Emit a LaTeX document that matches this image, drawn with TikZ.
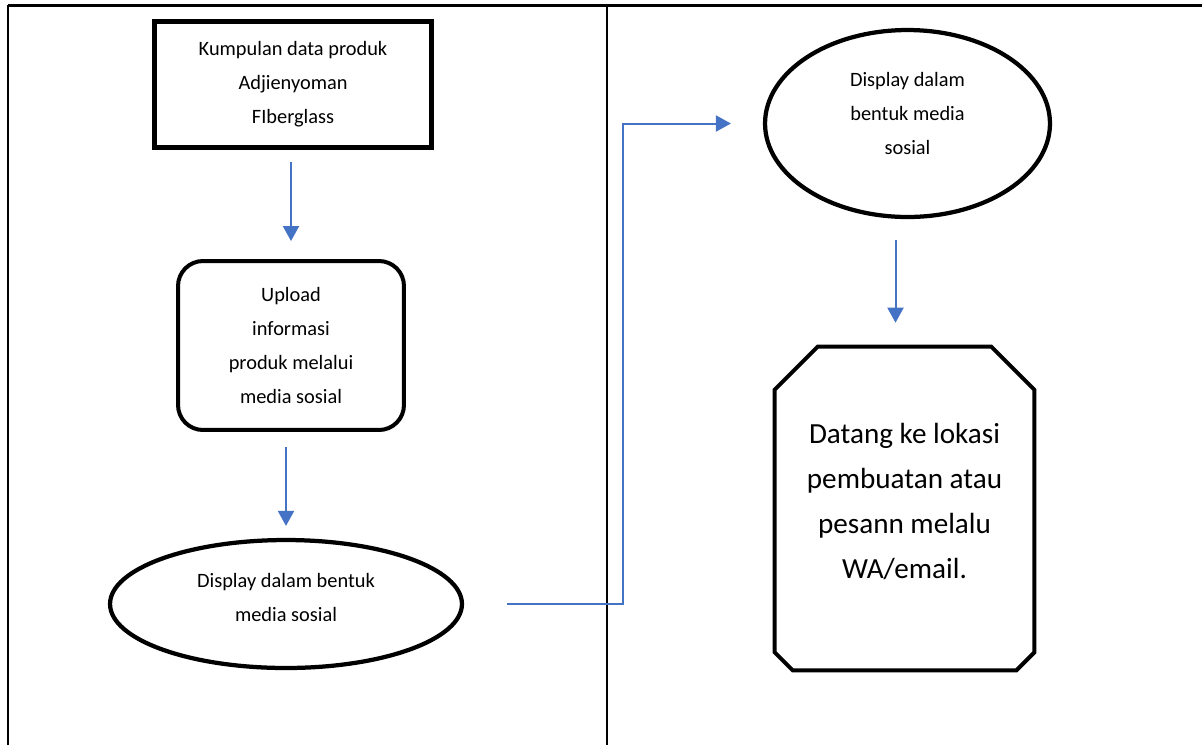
\documentclass[tikz,border=0pt]{standalone}
\usepackage{fontspec}
\setmainfont{Carlito}
\usetikzlibrary{arrows.meta,calc,shapes.geometric}
\definecolor{flowblue}{RGB}{68,114,196}

\begin{document}
\begin{tikzpicture}[x=0.02cm,y=-0.02cm,
    txt/.style={align=center,font=\fontsize{11.6}{19.3}\selectfont},
    flow/.style={draw=flowblue,line width=0.04cm,-{Triangle[length=0.3cm,width=0.32cm]}}]
  \useasboundingbox (0,0) rectangle (1202,745);
  \draw[line width=0.06cm] (8,5) -- (1202,5);
  \draw[line width=0.035cm] (8,745) -- (8,5);
  \draw[line width=0.03cm] (607,5) -- (607,745);

  \node[txt,draw,line width=0.1cm,minimum width=5.54cm,minimum height=2.54cm] (kumpulan) at (293,84.5)
    {Kumpulan data produk\\Adjienyoman\\FIberglass};
  \node[txt,draw,line width=0.08cm,rounded corners=0.5cm,minimum width=4.52cm,minimum height=3.38cm] (upload) at (291,345.5)
    {Upload\\informasi\\produk melalui\\media sosial};
  \node[txt,draw,ellipse,line width=0.085cm,inner sep=0pt,text depth=8pt,minimum width=7.04cm,minimum height=2.56cm] (display) at (286,604)
    {Display dalam bentuk\\media sosial};
  \node[txt,draw,ellipse,line width=0.085cm,inner sep=0pt,text depth=11.5pt,minimum width=5.7cm,minimum height=3.74cm] (display2) at (907.5,123.5)
    {Display dalam\\bentuk media\\sosial};
  \node[align=center,font=\fontsize{16.6}{25.6}\selectfont,text depth=9pt,minimum width=5.18cm,minimum height=6.46cm] (datang) at (904.5,508.5)
    {Datang ke lokasi\\pembuatan atau\\pesann melalu\\WA/email.};
  \draw[line width=0.08cm] ($(datang.north west)+(43,0)$) -- ($(datang.north east)+(-43,0)$)
    -- ($(datang.north east)+(0,43)$) -- ($(datang.south east)+(0,-18)$)
    -- ($(datang.south east)+(-18,0)$) -- ($(datang.south west)+(18,0)$)
    -- ($(datang.south west)+(0,-18)$) -- ($(datang.north west)+(0,43)$) -- cycle;

  \draw[flow,shorten <=0.24cm,shorten >=0.36cm] (upload.north |- kumpulan.south) -- (upload.north);
  \draw[flow,shorten <=0.3cm,shorten >=0.24cm] (display.north |- upload.south) -- (display.north);
  \draw[flow,shorten <=0.42cm,shorten >=0.48cm] ([xshift=-0.24cm]display2.south) -- ([xshift=-0.24cm]display2.south |- datang.north);
  \draw[flow] ([xshift=0.86cm]display.east) -- ++(2.32cm,0) |- ([xshift=-0.64cm]display2.west);
\end{tikzpicture}
\end{document}
